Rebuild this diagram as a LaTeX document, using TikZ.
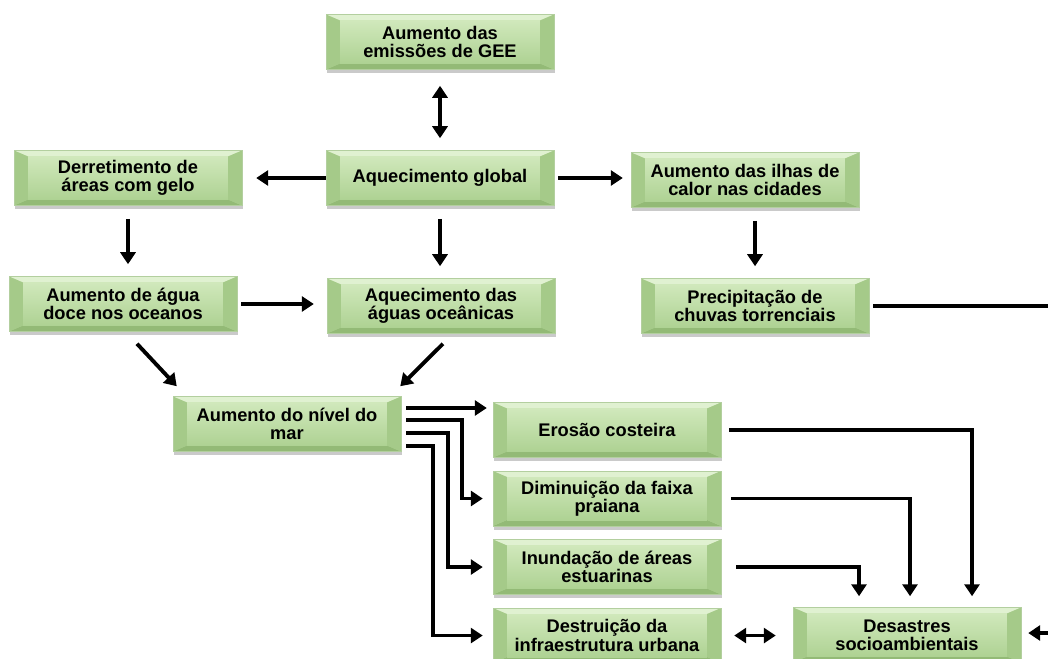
\documentclass[tikz,border=0pt]{standalone}
\usepackage{fontspec}
\setmainfont{Liberation Sans}
\usetikzlibrary{positioning,arrows.meta,calc,shadows}
\definecolor{boxtop}{HTML}{D0E8BB}
\definecolor{boxbot}{HTML}{AED293}
\definecolor{bvlight}{HTML}{E0F1D1}
\definecolor{bvside}{HTML}{A5CA89}
\definecolor{bvdark}{HTML}{93BA76}

\begin{document}
\begin{tikzpicture}[x=0.02cm,y=-0.02cm,
  box/.style={top color=boxtop,bottom color=boxbot,draw=bvdark!70,line width=0.3pt,
    minimum width=4.56cm,minimum height=1.1cm,inner sep=2pt,align=center,
    font=\fontsize{10.4}{10.4}\selectfont\bfseries,
    drop shadow={shadow xshift=0.6pt,shadow yshift=-2pt,opacity=0.35,fill=black!60},
    path picture={
      \fill[bvlight] (path picture bounding box.north west) -- (path picture bounding box.north east)
        -- ([shift={(-14,6)}]path picture bounding box.north east) -- ([shift={(14,6)}]path picture bounding box.north west) -- cycle;
      \fill[bvdark] (path picture bounding box.south west) -- (path picture bounding box.south east)
        -- ([shift={(-14,-6)}]path picture bounding box.south east) -- ([shift={(14,-6)}]path picture bounding box.south west) -- cycle;
      \fill[bvside] (path picture bounding box.north west) -- ([shift={(14,6)}]path picture bounding box.north west)
        -- ([shift={(14,-6)}]path picture bounding box.south west) -- (path picture bounding box.south west) -- cycle;
      \fill[bvside] (path picture bounding box.north east) -- ([shift={(-14,6)}]path picture bounding box.north east)
        -- ([shift={(-14,-6)}]path picture bounding box.south east) -- (path picture bounding box.south east) -- cycle;
      \fill[top color=boxtop,bottom color=boxbot] ([shift={(14,6)}]path picture bounding box.north west)
        rectangle ([shift={(-14,-6)}]path picture bounding box.south east);}},
  ln/.style={line width=2.2pt},
  ar/.style={ln,-{Triangle[length=2.4mm,width=3mm]}},
  dar/.style={ln,{Triangle[length=2.4mm,width=3mm]}-{Triangle[length=2.4mm,width=3mm]}}]
\useasboundingbox (0,0) rectangle (1048,659);
\clip (0,0) rectangle (1048,659);
% upper part
\node[box] (gee) at (440,42) {Aumento das\\emissões de GEE};
\node[box] (aq) at (440,178) {Aquecimento global};
\node[box] (derr) at (128,178) {Derretimento de\\áreas com gelo};
\node[box] (ilhas) at (745,180) {Aumento das ilhas de\\calor nas cidades};
\node[box] (agua) at (123,304) {Aumento de água\\doce nos oceanos};
\node[box] (aguas) at (441,306) {Aquecimento das\\águas oceânicas};
\node[box] (precip) at (755,306) {Precipitação de\\chuvas torrenciais};
\draw[dar,shorten <=0.32cm,shorten >=0.24cm] (gee.south) -- (aq.north);
\draw[ar,shorten >=0.28cm] (aq.west) -- (derr.east);
\draw[ar,shorten <=0.08cm,shorten >=0.16cm] (aq.east) -- (aq.east -| ilhas.west);
\draw[ar,shorten <=0.26cm,shorten >=0.24cm] (derr.south) -- (derr.south |- agua.north);
\draw[ar,shorten <=0.26cm,shorten >=0.24cm] (aq.south) -- (aq.south |- aguas.north);
\draw[ar,shorten <=0.26cm,shorten >=0.24cm] (precip.north |- ilhas.south) -- (precip.north);
\draw[ar,shorten <=0.08cm,shorten >=0.26cm] (agua.east) -- (agua.east -| aguas.west);
\coordinate (rimA) at (1048,306);
\draw[ln,shorten <=0.08cm] (precip.east) -- (precip.east -| rimA);
% sea level and its effects
\node[box] (nivel) at (287,424) {Aumento do nível do\\mar};
\draw[ar] ($(agua.south)+(14,12)$) -- ($(nivel.north west)+(4,-10)$);
\draw[ar] ($(aguas.south)+(2,10)$) -- ($(nivel.north east)+(-1,-10)$);
\node[box] (erosao) at (607,430) {Erosão costeira};
\node[box,below=0.26cm of erosao] (dimin) {Diminuição da faixa\\praiana};
\node[box,below=0.26cm of dimin] (inund) {Inundação de áreas\\estuarinas};
\node[box,below=0.26cm of inund] (destr) {Destruição da\\infraestrutura urbana};
\node[box] (desastres) at (907,635) {Desastres\\socioambientais};
\draw[ar,shorten >=0.12cm] ($(nivel.east)+(5,-16)$) coordinate (b1) -- (b1 -| erosao.west);
\draw[ar,shorten >=0.2cm] ($(nivel.east)+(5,-4)$) -| ($(dimin.west)+(-31,0)$) -- (dimin.west);
\draw[ar,shorten >=0.2cm] ($(nivel.east)+(5,9)$) -| ($(inund.west)+(-45,0)$) -- (inund.west);
\draw[ar,shorten >=0.2cm] ($(nivel.east)+(5,22)$) -| ($(destr.west)+(-60,0)$) -- (destr.west);
\draw[ar,shorten <=0.16cm,shorten >=0.22cm] (erosao.east) -| ($(desastres.north)+(65,0)$);
\draw[ar,shorten <=0.2cm,shorten >=0.22cm] (dimin.east) -| ($(desastres.north)+(3,0)$);
\draw[ar,shorten <=0.3cm,shorten >=0.22cm] (inund.east) -| ($(desastres.north)+(-48,0)$);
\draw[dar,shorten <=0.26cm,shorten >=0.34cm] (destr.east) -- (destr.east -| desastres.west);
\coordinate (rimB) at (1048,633);
\draw[ar,shorten >=0.14cm] (rimB) -- (rimB -| desastres.east);
\end{tikzpicture}
\end{document}
